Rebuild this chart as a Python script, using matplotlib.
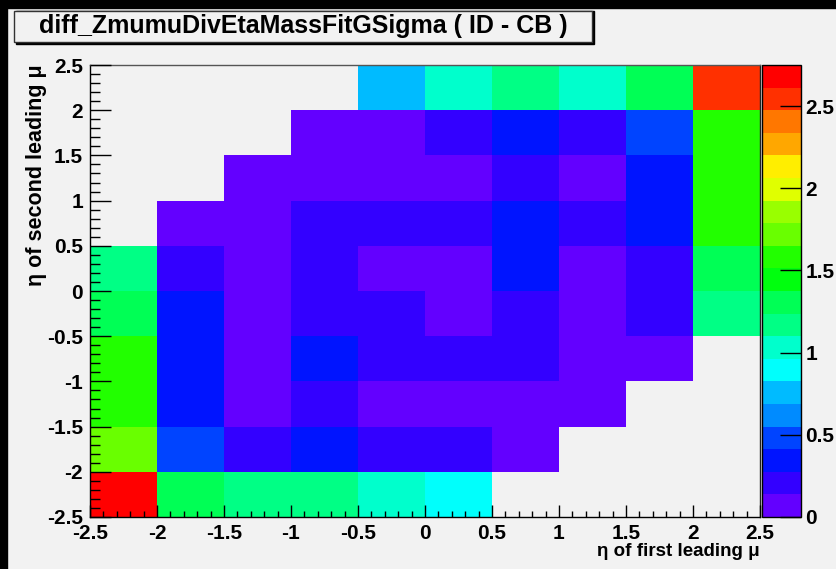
import colorsys
import numpy as np
import matplotlib
matplotlib.use("Agg")
import matplotlib.pyplot as plt
from matplotlib.colors import ListedColormap, BoundaryNorm
from matplotlib.patches import Rectangle

# bin edges (eta of first / second leading muon)
x_edges = [-2.5, -2.0, -1.5, -1.0, -0.5, 0.0, 0.5, 1.0, 1.5, 2.0, 2.5]
y_edges = [-2.5, -2.0, -1.5, -1.0, -0.5, 0.0, 0.5, 1.0, 1.5, 2.0, 2.5]
nan = np.nan

# one row per eta2 bin, from -2.5 upwards
row_m25 = [2.74, 1.31, 1.17, 1.17, 1.03, 0.89, nan, nan, nan, nan]
row_m20 = [1.72, 0.48, 0.21, 0.34, 0.21, 0.21, 0.07, nan, nan, nan]
row_m15 = [1.58, 0.34, 0.07, 0.21, 0.07, 0.07, 0.07, 0.07, nan, nan]
row_m10 = [1.58, 0.34, 0.07, 0.34, 0.21, 0.21, 0.21, 0.07, 0.07, nan]
row_m05 = [1.31, 0.34, 0.07, 0.21, 0.21, 0.07, 0.21, 0.07, 0.21, 1.17]
row_p00 = [1.17, 0.21, 0.07, 0.21, 0.07, 0.07, 0.34, 0.07, 0.21, 1.31]
row_p05 = [nan, 0.07, 0.07, 0.21, 0.21, 0.21, 0.34, 0.21, 0.34, 1.58]
row_p10 = [nan, nan, 0.07, 0.07, 0.07, 0.07, 0.21, 0.07, 0.34, 1.58]
row_p15 = [nan, nan, nan, 0.07, 0.07, 0.21, 0.34, 0.21, 0.48, 1.58]
row_p20 = [nan, nan, nan, nan, 0.76, 1.03, 1.17, 1.03, 1.31, 2.54]

z = np.array([row_m25, row_m20, row_m15, row_m10, row_m05,
              row_p00, row_p05, row_p10, row_p15, row_p20])
zmin, zmax = 0.0, 2.75
ncont = 20

# ROOT "pretty" palette: 50 HLS hues violet->red, 20 contours picked from it
pretty = []
for i in range(50):
    hue = 280.0 - (i + 1) * (280.0 / 50)
    pretty.append(colorsys.hls_to_rgb(hue / 360.0, 0.5, 1.0))
cols = [pretty[int((k + 0.99) * 50 / ncont)] for k in range(ncont)]
cmap = ListedColormap(cols)
levels = np.linspace(zmin, zmax, ncont + 1)
norm = BoundaryNorm(levels, ncont)

W, H = 836, 569
bg = "#f2f2f2"
plt.rcParams['font.family'] = ['Liberation Sans', 'DejaVu Sans']
lab_size = 15

fig = plt.figure(figsize=(W / 100, H / 100), dpi=100, facecolor=bg)

def fx(px):
    return px / W

def fy(py):
    return 1 - py / H

# black strips on top and left edge
fig.patches.append(Rectangle((0, fy(8)), 1, 8 / H, transform=fig.transFigure,
                             color="black", zorder=0))
fig.patches.append(Rectangle((0, 0), 7 / W, 1, transform=fig.transFigure,
                             color="black", zorder=0))

ax = fig.add_axes([fx(90), fy(517), fx(760 - 90), (517 - 65) / H])
ax.set_facecolor(bg)
zm = np.ma.masked_invalid(z)
ax.pcolormesh(x_edges, y_edges, zm, cmap=cmap, norm=norm)
ax.set_xlim(-2.5, 2.5)
ax.set_ylim(-2.5, 2.5)
ticks = np.arange(-2.5, 2.51, 0.5)
ax.set_xticks(ticks)
ax.set_yticks(ticks)
ax.set_xticklabels([f"{t:g}" for t in ticks])
ax.set_yticklabels([f"{t:g}" for t in ticks])
ax.set_xticks(np.arange(-2.5, 2.51, 0.1), minor=True)
ax.set_yticks(np.arange(-2.5, 2.51, 0.1), minor=True)
ax.tick_params(axis='x', which='major', direction='in', length=9, width=1,
               top=False, pad=5, labelsize=lab_size)
ax.tick_params(axis='x', which='minor', direction='in', length=4.5, width=1, top=False)
ax.tick_params(axis='y', which='major', direction='in', length=15, width=1,
               right=False, pad=5, labelsize=lab_size)
ax.tick_params(axis='y', which='minor', direction='in', length=7.5, width=1, right=False)
for lab in ax.get_xticklabels() + ax.get_yticklabels():
    lab.set_fontweight('bold')
for s in ax.spines.values():
    s.set_linewidth(1)
ax.spines['top'].set_color("#555555")
ax.spines['right'].set_color("#222222")
ax.set_axisbelow(False)

# colour scale
cax = fig.add_axes([fx(762), fy(517), fx(801 - 762), (517 - 65) / H])
cb = fig.colorbar(plt.cm.ScalarMappable(norm=norm, cmap=cmap), cax=cax,
                  ticks=[0, 0.5, 1, 1.5, 2, 2.5], drawedges=False)
cb.ax.set_yticklabels(["0", "0.5", "1", "1.5", "2", "2.5"])
cb.ax.tick_params(direction='in', length=15, width=1, labelsize=lab_size, pad=3)
cb.ax.minorticks_off()
for lab in cb.ax.get_yticklabels():
    lab.set_fontweight('bold')
cb.outline.set_linewidth(1)

# axis titles
fig.text(fx(760), fy(551), "\u03b7 of first leading \u03bc", ha='right', va='center',
         fontsize=13.5, fontweight='bold')
fig.text(fx(37), fy(64), "\u03b7 of second leading \u03bc", ha='center', va='top',
         rotation=90, fontsize=15.5, fontweight='bold')

# title box with shadow
fig.patches.append(Rectangle((fx(16), fy(44)), fx(592 - 14), (44 - 11) / H,
                             transform=fig.transFigure, color="black", zorder=1))
fig.patches.append(Rectangle((fx(14), fy(42)), fx(592 - 14), (42 - 11) / H,
                             transform=fig.transFigure, facecolor=bg,
                             edgecolor="#333333", linewidth=1, zorder=2))
fig.text(fx(303), fy(26), "diff_ZmumuDivEtaMassFitGSigma ( ID - CB )",
         ha='center', va='center', fontsize=18, fontweight='bold', zorder=3)

fig.savefig("out.png", dpi=100, facecolor=bg)
